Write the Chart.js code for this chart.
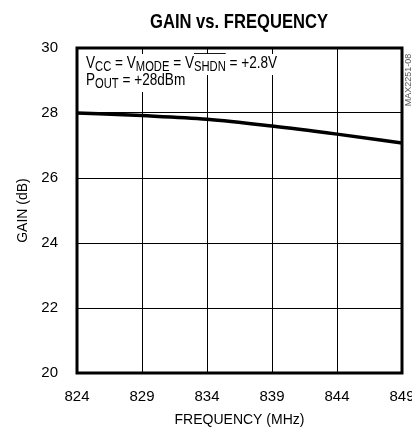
<!DOCTYPE html>
<html>
<head>
<meta charset="utf-8">
<script src="https://cdn.jsdelivr.net/npm/chart.js@4/dist/chart.umd.min.js"></script>
<style>
  html, body { margin: 0; padding: 0; background: #fff; }
  #wrap { width: 412px; height: 429px; position: relative; }
</style>
</head>
<body>
<div id="wrap"><canvas id="gainChart" width="412" height="429"></canvas></div>
<script>
// Data
const freqs = [824, 829, 834, 839, 844, 849];
const gains = [28.0, 27.92, 27.81, 27.6, 27.35, 27.08];
const xTicks = [824, 829, 834, 839, 844, 849];
const yTicks = [20, 22, 24, 26, 28, 30];

const FONT = '"Liberation Sans Narrow", "Arial Narrow", "Liberation Sans", sans-serif';

// draw text squeezed horizontally to a target width (no condensed font available)
function squeezedText(ctx, text, x, y, width) {
    const w = ctx.measureText(text).width;
    ctx.save();
    ctx.translate(x, y);
    ctx.scale(width / w, 1);
    ctx.fillText(text, 0, 0);
    ctx.restore();
}

// Title, condition text and side label
const annotations = {
    id: 'annotations',
    afterDraw(chart) {
        const ctx = chart.ctx;
        const area = chart.chartArea;
        ctx.save();

        // title
        ctx.fillStyle = '#000';
        ctx.font = 'bold 21px ' + FONT;
        ctx.textAlign = 'left';
        ctx.textBaseline = 'alphabetic';
        squeezedText(ctx, 'GAIN vs. FREQUENCY', 150, 28, 178);

        // side label
        ctx.save();
        ctx.translate(409, 80);
        ctx.rotate(-Math.PI / 2);
        ctx.font = '9px ' + FONT;
        ctx.fillStyle = '#555';
        ctx.textAlign = 'center';
        ctx.textBaseline = 'middle';
        ctx.fillText('MAX2251-08', 0, 0);
        ctx.restore();

        // condition lines with subscripts
        const sx = 0.8;
        const big = '17px ' + FONT;
        const small = '14px ' + FONT;
        const line1 = [
            ['V', big, 0], ['CC', small, 3], [' = V', big, 0], ['MODE', small, 3],
            [' = V', big, 0], ['SHDN', small, 3, true], [' = +2.8V', big, 0]
        ];
        const line2 = [['P', big, 0], ['OUT', small, 3], [' = +28dBm', big, 0]];

        function drawLine(parts, x0, baseline) {
            let w = 0;
            parts.forEach(p => { ctx.font = p[1]; w += ctx.measureText(p[0]).width; });
            ctx.fillStyle = '#fff';
            ctx.fillRect(x0 - 2, baseline - 14, w * sx + 4, 21);
            ctx.save();
            ctx.translate(x0, baseline);
            ctx.scale(sx, 1);
            ctx.fillStyle = '#000';
            ctx.strokeStyle = '#000';
            ctx.textAlign = 'left';
            let x = 0;
            parts.forEach(p => {
                ctx.font = p[1];
                const tw = ctx.measureText(p[0]).width;
                ctx.fillText(p[0], x, p[2]);
                if (p[3]) {
                    ctx.lineWidth = 1;
                    ctx.beginPath();
                    ctx.moveTo(x, -14.5);
                    ctx.lineTo(x + tw, -14.5);
                    ctx.stroke();
                }
                x += tw;
            });
            ctx.restore();
        }
        drawLine(line1, area.left + 9, 68);
        drawLine(line2, area.left + 9, 85);

        // thick frame
        ctx.lineWidth = 3;
        ctx.strokeStyle = '#000';
        ctx.strokeRect(area.left, area.top, area.right - area.left, area.bottom - area.top);
        ctx.restore();
    }
};

new Chart(document.getElementById('gainChart'), {
    type: 'line',
    data: {
        datasets: [{
            data: freqs.map((f, i) => ({ x: f, y: gains[i] })),
            borderColor: '#000',
            borderWidth: 3.5,
            pointRadius: 0,
            cubicInterpolationMode: 'monotone'
        }]
    },
    options: {
        responsive: false,
        animation: false,
        layout: { padding: { top: 48, right: 10, left: 0, bottom: 0 } },
        plugins: {
            legend: { display: false },
            tooltip: { enabled: false }
        },
        scales: {
            x: {
                type: 'linear',
                min: 824,
                max: 849,
                afterBuildTicks: axis => { axis.ticks = xTicks.map(v => ({ value: v })); },
                afterFit: axis => {
                    axis.height = 56;
                    axis.paddingLeft = 0;
                    axis.paddingRight = 0;
                },
                grid: { color: '#000', lineWidth: 1, drawTicks: false },
                border: { display: false },
                ticks: { color: '#000', padding: 15, maxRotation: 0, font: { family: FONT, size: 15 } },
                title: {
                    display: true,
                    text: 'FREQUENCY (MHz)',
                    color: '#000',
                    padding: 0,
                    font: { family: FONT, size: 14 }
                }
            },
            y: {
                min: 20,
                max: 30,
                afterBuildTicks: axis => { axis.ticks = yTicks.map(v => ({ value: v })); },
                afterFit: axis => {
                    axis.width = 77;
                    axis.paddingTop = 0;
                    axis.paddingBottom = 0;
                },
                grid: { color: '#000', lineWidth: 1, drawTicks: false },
                border: { display: false },
                ticks: { color: '#000', padding: 19, font: { family: FONT, size: 15 } },
                title: {
                    display: true,
                    text: 'GAIN (dB)',
                    color: '#000',
                    padding: 15,
                    font: { family: FONT, size: 14 }
                }
            }
        }
    },
    plugins: [annotations]
});
</script>
</body>
</html>
